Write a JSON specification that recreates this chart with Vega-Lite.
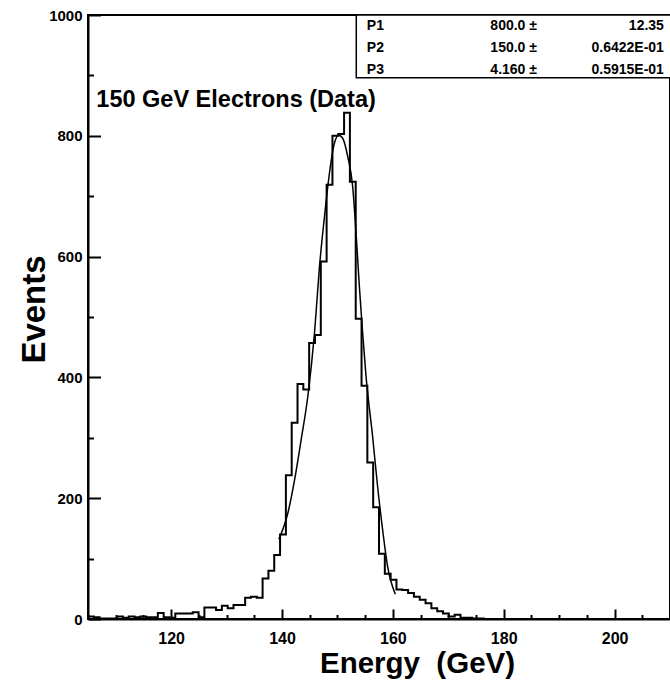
{
  "$schema": "https://vega.github.io/schema/vega-lite/v6.json",
  "width": 582,
  "height": 604,
  "autosize": "none",
  "padding": {"left": 88, "top": 15, "right": 0, "bottom": 61},
  "background": "white",
  "config": {"view": {"stroke": "black", "strokeWidth": 2}, "font": "Liberation Sans"},
  "resolve": {"axis": {"x": "independent"}},
  "datasets": {
    "hist": [
      {"lo": 105.00, "n": 4}, {"lo": 106.05, "n": 3}, {"lo": 107.10, "n": 1}, {"lo": 108.15, "n": 1},
      {"lo": 109.20, "n": 1}, {"lo": 110.25, "n": 4}, {"lo": 111.30, "n": 2}, {"lo": 112.35, "n": 4},
      {"lo": 113.40, "n": 3}, {"lo": 114.45, "n": 4}, {"lo": 115.50, "n": 3}, {"lo": 116.55, "n": 3},
      {"lo": 117.60, "n": 10}, {"lo": 118.65, "n": 3}, {"lo": 119.70, "n": 2}, {"lo": 120.75, "n": 9},
      {"lo": 121.80, "n": 9}, {"lo": 122.85, "n": 9}, {"lo": 123.90, "n": 11}, {"lo": 124.95, "n": 3},
      {"lo": 126.00, "n": 19}, {"lo": 127.05, "n": 19}, {"lo": 128.10, "n": 15}, {"lo": 129.15, "n": 22},
      {"lo": 130.20, "n": 18}, {"lo": 131.25, "n": 23}, {"lo": 132.30, "n": 23}, {"lo": 133.35, "n": 35},
      {"lo": 134.40, "n": 37}, {"lo": 135.45, "n": 35}, {"lo": 136.50, "n": 67}, {"lo": 137.55, "n": 80},
      {"lo": 138.60, "n": 106}, {"lo": 139.65, "n": 140}, {"lo": 140.70, "n": 238}, {"lo": 141.75, "n": 325},
      {"lo": 142.80, "n": 389}, {"lo": 143.85, "n": 380}, {"lo": 144.90, "n": 457}, {"lo": 145.95, "n": 470},
      {"lo": 147.00, "n": 592}, {"lo": 148.05, "n": 719}, {"lo": 149.10, "n": 800}, {"lo": 150.15, "n": 803},
      {"lo": 151.20, "n": 838}, {"lo": 152.25, "n": 724}, {"lo": 153.30, "n": 497}, {"lo": 154.35, "n": 386},
      {"lo": 155.40, "n": 259}, {"lo": 156.45, "n": 185}, {"lo": 157.50, "n": 108}, {"lo": 158.55, "n": 75},
      {"lo": 159.60, "n": 65}, {"lo": 160.65, "n": 49}, {"lo": 161.70, "n": 48}, {"lo": 162.75, "n": 43},
      {"lo": 163.80, "n": 37}, {"lo": 164.85, "n": 32}, {"lo": 165.90, "n": 26}, {"lo": 166.95, "n": 18},
      {"lo": 168.00, "n": 13}, {"lo": 169.05, "n": 9}, {"lo": 170.10, "n": 4}, {"lo": 171.15, "n": 7},
      {"lo": 172.20, "n": 2}, {"lo": 173.25, "n": 2}, {"lo": 174.30, "n": 1}, {"lo": 175.35, "n": 1},
      {"lo": 176.40, "n": 0}, {"lo": 177.45, "n": 0}
    ],
    "fit": [
      {"e": 139.43, "f": 132}, {"e": 141.05, "f": 175}, {"e": 142.26, "f": 230}, {"e": 143.46, "f": 297},
      {"e": 144.65, "f": 368}, {"e": 145.86, "f": 473}, {"e": 146.76, "f": 583}, {"e": 147.66, "f": 666},
      {"e": 148.56, "f": 738}, {"e": 149.46, "f": 788}, {"e": 150.23, "f": 801}, {"e": 150.95, "f": 796},
      {"e": 151.85, "f": 766}, {"e": 152.75, "f": 716}, {"e": 153.36, "f": 639}, {"e": 153.96, "f": 550},
      {"e": 154.55, "f": 473}, {"e": 155.16, "f": 402}, {"e": 156.35, "f": 302}, {"e": 157.25, "f": 219},
      {"e": 158.15, "f": 148}, {"e": 159.05, "f": 87}, {"e": 160.44, "f": 41}
    ],
    "stats": [
      {"p": "P1", "v": "800.0 ±", "err": "12.35"},
      {"p": "P2", "v": "150.0 ±", "err": "0.6422E-01"},
      {"p": "P3", "v": "4.160 ±", "err": "0.5915E-01"}
    ],
    "note": [{"t": "150 GeV Electrons (Data)"}]
  },
  "layer": [
    {
      "data": {"name": "hist"},
      "mark": {"type": "line", "interpolate": "step-after", "color": "black", "strokeWidth": 2, "clip": true},
      "encoding": {
        "x": {
          "field": "lo", "type": "quantitative",
          "scale": {"domain": [105, 210], "nice": false, "zero": false},
          "axis": {
            "orient": "bottom",
            "title": "Energy \u00a0(GeV)",
            "values": [120, 140, 160, 180, 200],
            "format": "d",
            "tickSize": -10,
            "tickColor": "black", "tickWidth": 2,
            "domainColor": "black", "domainWidth": 2,
            "labelFont": "Liberation Sans", "labelFontWeight": "bold", "labelFontSize": 16, "labelColor": "black",
            "labelPadding": 21, "labelOverlap": false, "labelFlush": false,
            "titleFont": "Liberation Sans", "titleFontWeight": "bold", "titleFontSize": 29.5, "titleColor": "black",
            "titleAlign": "center", "titleBaseline": "alphabetic", "titleX": 329, "titleY": 53,
            "grid": false
          }
        },
        "y": {
          "field": "n", "type": "quantitative",
          "scale": {"domain": [0, 1000], "nice": false},
          "axis": {
            "title": "Events",
            "values": [0,50,100,150,200,250,300,350,400,450,500,550,600,650,700,750,800,850,900,950,1000],
            "labelExpr": "datum.value % 200 === 0 ? datum.label : ''",
            "tickSize": {"condition": {"test": "datum.value % 200 === 0", "value": -12.5}, "value": -5.5},
            "tickColor": "black", "tickWidth": 2,
            "domainColor": "black", "domainWidth": 2,
            "labelFont": "Liberation Sans", "labelFontWeight": "bold", "labelFontSize": 15, "labelColor": "black",
            "labelPadding": 18.5, "labelOverlap": false, "labelFlush": false, "format": "d",
            "titleFont": "Liberation Sans", "titleFontWeight": "bold", "titleFontSize": 33, "titleColor": "black",
            "titleAngle": -90, "titleAlign": "center", "titleBaseline": "alphabetic", "titleX": -44, "titleY": 294,
            "grid": false
          }
        }
      }
    },
    {
      "data": {"name": "fit"},
      "mark": {"type": "line", "interpolate": "monotone", "color": "black", "strokeWidth": 1.5},
      "encoding": {
        "x": {
          "field": "e", "type": "quantitative",
          "axis": {
            "orient": "bottom", "title": null, "labels": false, "domain": false, "grid": false,
            "values": [105,110,115,125,130,135,145,150,155,165,170,175,185,190,195,205,210],
            "tickSize": -4.5, "tickColor": "black", "tickWidth": 2
          }
        },
        "y": {"field": "f", "type": "quantitative"}
      }
    },
    {
      "data": {"name": "note"},
      "mark": {"type": "text", "align": "left", "baseline": "alphabetic", "font": "Liberation Sans", "fontWeight": "bold", "fontSize": 23.5, "color": "black", "clip": false},
      "encoding": {
        "x": {"datum": 106.5, "axis": null},
        "y": {"datum": 848},
        "text": {"field": "t"}
      }
    },
    {
      "data": {"values": [{"box": 1}]},
      "mark": {"type": "rect", "fill": "white", "stroke": "black", "strokeWidth": 1.5, "clip": true},
      "encoding": {
        "x": {"datum": 153.4, "axis": null},
        "x2": {"datum": 212},
        "y": {"datum": 1000},
        "y2": {"datum": 896}
      }
    },
    {
      "data": {"name": "stats"},
      "transform": [{"filter": "datum.p === 'P1'"}],
      "encoding": {"y": {"datum": 974.5}},
      "layer": [
        {"mark": {"type": "text", "align": "left", "baseline": "alphabetic", "fontWeight": "bold", "fontSize": 14, "color": "black"}, "encoding": {"x": {"datum": 155.3, "axis": null}, "text": {"field": "p"}}},
        {"mark": {"type": "text", "align": "right", "baseline": "alphabetic", "fontWeight": "bold", "fontSize": 14, "color": "black"}, "encoding": {"x": {"datum": 186.0, "axis": null}, "text": {"field": "v"}}},
        {"mark": {"type": "text", "align": "right", "baseline": "alphabetic", "fontWeight": "bold", "fontSize": 14, "color": "black"}, "encoding": {"x": {"datum": 208.9, "axis": null}, "text": {"field": "err"}}}
      ]
    },
    {
      "data": {"name": "stats"},
      "transform": [{"filter": "datum.p === 'P2'"}],
      "encoding": {"y": {"datum": 938.5}},
      "layer": [
        {"mark": {"type": "text", "align": "left", "baseline": "alphabetic", "fontWeight": "bold", "fontSize": 14, "color": "black"}, "encoding": {"x": {"datum": 155.3, "axis": null}, "text": {"field": "p"}}},
        {"mark": {"type": "text", "align": "right", "baseline": "alphabetic", "fontWeight": "bold", "fontSize": 14, "color": "black"}, "encoding": {"x": {"datum": 186.0, "axis": null}, "text": {"field": "v"}}},
        {"mark": {"type": "text", "align": "right", "baseline": "alphabetic", "fontWeight": "bold", "fontSize": 14, "color": "black"}, "encoding": {"x": {"datum": 208.9, "axis": null}, "text": {"field": "err"}}}
      ]
    },
    {
      "data": {"name": "stats"},
      "transform": [{"filter": "datum.p === 'P3'"}],
      "encoding": {"y": {"datum": 903}},
      "layer": [
        {"mark": {"type": "text", "align": "left", "baseline": "alphabetic", "fontWeight": "bold", "fontSize": 14, "color": "black"}, "encoding": {"x": {"datum": 155.3, "axis": null}, "text": {"field": "p"}}},
        {"mark": {"type": "text", "align": "right", "baseline": "alphabetic", "fontWeight": "bold", "fontSize": 14, "color": "black"}, "encoding": {"x": {"datum": 186.0, "axis": null}, "text": {"field": "v"}}},
        {"mark": {"type": "text", "align": "right", "baseline": "alphabetic", "fontWeight": "bold", "fontSize": 14, "color": "black"}, "encoding": {"x": {"datum": 208.9, "axis": null}, "text": {"field": "err"}}}
      ]
    }
  ]
}
